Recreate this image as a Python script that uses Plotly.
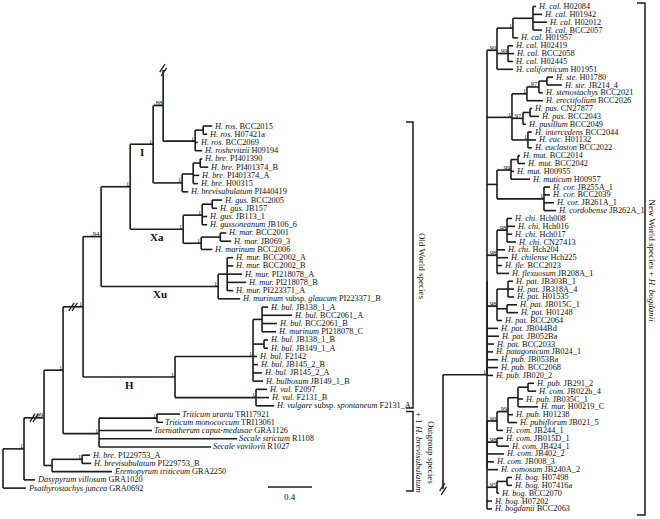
import plotly.graph_objects as go

# ---------------- data ----------------
LEFT_TAXA = [
    "H. ros.", "H. ros.", "H. ros.", "H. roshevitzii",
    "H. bre.", "H. bre.", "H. bre.", "H. bre.", "H. brevisubulatum",
    "H. gus.", "H. gus.", "H. gus.", "H. gussoneanum",
    "H. mar.", "H. mar.", "H. marinum",
    "H. mur.", "H. mur.", "H. mur.", "H. mur.", "H. mur.", "H. murinum subsp. glaucum",
    "H. bul.", "H. bul.", "H. bul.", "H. murinum", "H. bul.", "H. bul.", "H. bul.",
    "H. bul.", "H. bul.", "H. bulbosum",
    "H. vul.", "H. vul.", "H. vulgare subsp. spontaneum",
    "Triticum urartu", "Triticum monococcum", "Taeniatherum caput-medusae",
    "Secale strictum", "Secale vavilovii",
    "H. bre.", "H. brevisubulatum", "Eremopyrum triticeum", "Dasypyrum villosum",
    "Psathyrostachys juncea"]
LEFT_IDS = [
    "BCC2015", "H07421a", "BCC2069", "H09194",
    "PI401390", "PI401374_B", "PI401374_A", "H00315", "PI440419",
    "BCC2005", "JB157", "JB113_1", "JB106_6",
    "BCC2001", "JB069_3", "BCC2006",
    "BCC2002_A", "BCC2002_B", "PI218078_A", "PI218078_B", "PI223371_A", "PI223371_B",
    "JB138_1_A", "BCC2061_A", "BCC2061_B", "PI218078_C", "JB138_1_B", "JB149_1_A", "F2142",
    "JB145_2_B", "JB145_2_A", "JB149_1_B",
    "F2097", "F2131_B", "F2131_A",
    "TRI17921", "TRI13061", "GRA1126", "R1108", "R1027",
    "PI229753_A", "PI229753_B", "GRA2250", "GRA1020", "GRA0692"]

RIGHT_TAXA = [
    "H. cal.", "H. cal.", "H. cal.", "H. cal.", "H. cal.", "H. cal.", "H. cal.", "H. cal.",
    "H. californicum", "H. ste.", "H. ste.", "H. stenostachys", "H. erectifolium",
    "H. pus.", "H. pus.", "H. pusillum", "H. intercedens", "H. euc.", "H. euclaston",
    "H. mut.", "H. mut.", "H. mut.", "H. muticum",
    "H. cor.", "H. cor.", "H. cor.", "H. cordobense",
    "H. chi.", "H. chi.", "H. chi.", "H. chi.", "H. chi.", "H. chilense",
    "H. fle.", "H. flexuosum",
    "H. pat.", "H. pat.", "H. pat.", "H. pat.", "H. pat.", "H. pat.", "H. pat.", "H. pat.",
    "H. pat.", "H. patagonicum",
    "H. pub.", "H. pub.", "H. pub.", "H. pub.", "H. com.", "H. pub.", "H. mur.", "H. pub.",
    "H. pubiflorum",
    "H. com.", "H. com.", "H. com.", "H. com.", "H. com.", "H. comosum",
    "H. bog.", "H. bog.", "H. bog.", "H. bog.", "H. bogdanii"]
RIGHT_IDS = [
    "H02084", "H01942", "H02012", "BCC2057", "H01957", "H02419", "BCC2058", "H02445",
    "H01951", "H01780", "JB214_4", "BCC2021", "BCC2026",
    "CN27877", "BCC2043", "BCC2049", "BCC2044", "H01132", "BCC2022",
    "BCC2014", "BCC2042", "H00955", "H00957",
    "JB255A_1", "BCC2039", "JB261A_1", "JB262A_1",
    "Hch008", "Hch016", "Hch017", "CN27413", "Hch204", "Hch225",
    "BCC2023", "JB208A_1",
    "JB303B_1", "JB318A_4", "H01535", "JB015C_1", "H01248", "BCC2064", "JB044Bd", "JB052Ba",
    "BCC2033", "JB024_1",
    "JB053Ba", "BCC2068", "JB020_2", "JB291_2", "JB022b_4", "JB035C_1", "H00219_C", "H01238",
    "JB021_5",
    "JB244_1", "JB015D_1", "JB424_1", "JB402_2", "JB008_3", "JB240A_2",
    "H07498", "H07416a", "BCC2070", "H07202", "BCC2063"]

# Old World part + outgroups (branch lengths in substitutions/site, support = posterior prob.)
LEFT_NEWICK = (
    "(((((((("
    "(NW:0,((l1:0.082,l2:0.036):0.073,l3:0.023,l4:0.064)1:0.291).88:0.091,"
    "(((l5:0.018,l6:0.073):0.064,l7:0.055,l8:0.045):0.1,l9:0.055)1:0.264)1:0.209,"
    "(((l10:0.091,l11:0.045):0.091,l12:0.045,l13:0.045)1:0.173,"
    "((l14:0.055,l15:0.1):0.173,l16:0.1)1:0.164)1:0.482)1:0.264,"
    "((l17:0.055,l18:0.055,l19:0.136,l20:0.173,l21:0.055):0.082,l22:0.2)1:1.064).94:0.164,"
    "(((l23:0.055,l24:0.273,l25:0.136,l26:0.127):0.082,(l27:0.036,l28:0.036):0.1,"
    "l29:0.036,l30:0.045,l31:0.082,l32:0.091)1:0.709,"
    "(l33:0.1,l34:0.118,l35:0.164)1:0.736)1:0.836)1:0.182,"
    "((l36:0.209,l37:0.055)1:0.527,l38:0.482,l39:1.255,l40:1.018)1:0.327)1:0.173,"
    "((l41:0.073,l42:0.082)1:0.273,l43:0.545):0.073).99:0.182,"
    "l44:0.1)1:0.191,l45:0.209);")

# New World clade + H. bogdanii (continuation of the NW branch)
RIGHT_NEWICK = (
    "((("
    "(((r1:0.027,r2:0.082,r3:0.127,r4:0.082):0.182,r5:0.045)1:0.145,"
    "(r6:0.045,r7:0.055,r8:0.045).99:0.1,r9:0.145).90:0.091,"
    "((((r10:0.055,r11:0.136):0.073,r12:0.036).97:0.109,r13:0.145)1:0.136,"
    "((r14:0.018,r15:0.082):0.064,r16:0.027).97:0.1,"
    "(r17:0.036,r18:0.073,r19:0.036)1:0.145)1:0.227,"
    "(((r20:0.018,r21:0.064):0.064,r22:0.027,r23:0.173).99:0.127,"
    "(r24:0.055,r25:0.055,r26:0.091,r27:0.109)1:0.427):0.091,"
    "((r28:0.045,r29:0.073,r30:0.045,r31:0.082).98:0.091,r32:0.073,r33:0.1,r34:0.045,"
    "r35:0.109).98:0.091,"
    "((r36:0.045,r37:0.055,r38:0.055):0.1,(r39:0.091,r40:0.1):0.091,r41:0.045).98:0.091,"
    "r42:0.1,r43:0.109,r44:0.064,r45:0.055,r46:0.1,r47:0.1,r48:0.055):0,"
    "(((((r49:0.055,r50:0.073):0.091,r51:0.045,r52:0.182):0.091,r53:0.045,r54:0.082).99:0.1,"
    "r55:0.055).90:0.091,"
    "(r56:0.055,r57:0.109).98:0.091,r58:0.155,r59:0.064,r60:0.1,"
    "((r61:0.045,r62:0.045):0.091,r63:0.018).95:0.091,r64:0.045,r65:0.045):0"
    ")1:0.4);")

CLADE_LABELS = [("I", "l1", "l9"), ("Xa", "l10", "l16"), ("Xu", "l17", "l22"), ("H", "l23", "l35")]
LEFT_BREAK_CLADES = [("l1", "l43"), ("l1", "l35")]   # branches drawn with a // break
SCALE_BAR = 0.4
SCALE_LABEL = "0.4"

# ---------------- geometry / style ----------------
W, HGT = 660, 519
PX_PER_UNIT = 110.0
LEFT_ROOT_PX = 3.0
RIGHT_ROOT_PX = 443.0
L_ROW0, L_ROWPX = 126.0, 8.23
R_ROW0, R_ROWPX = 6.5, 7.85
LINE = "#1c1c1c"
LW = 1.6
FONT = "Liberation Serif"
TIP_SIZE = 8.3


def ux(px):
    return (px - LEFT_ROOT_PX) / PX_PER_UNIT


def lrow(px):
    return (px - L_ROW0) / L_ROWPX


def rrow(px):
    return (px - R_ROW0) / R_ROWPX


def parse_newick(s):
    s = s.strip().rstrip(";")
    pos = 0

    def node():
        nonlocal pos
        n = {"children": [], "name": "", "support": "", "bl": 0.0}
        if s[pos] == "(":
            pos += 1
            while True:
                n["children"].append(node())
                if s[pos] == ",":
                    pos += 1
                    continue
                pos += 1
                break
        st = pos
        while pos < len(s) and s[pos] not in ":,)":
            pos += 1
        lab = s[st:pos]
        if n["children"]:
            n["support"] = lab
        else:
            n["name"] = lab
        if pos < len(s) and s[pos] == ":":
            pos += 1
            st = pos
            while pos < len(s) and s[pos] not in ",)":
                pos += 1
            n["bl"] = float(s[st:pos])
        return n

    return node()


def layout(n, x0, rows):
    n["px"] = x0
    n["x"] = x0 + n["bl"]
    if n["children"]:
        for c in n["children"]:
            layout(c, n["x"], rows)
        n["y"] = sum(c["y"] for c in n["children"]) / len(n["children"])
    else:
        n["y"] = rows[n["name"]]


def walk(n):
    yield n
    for c in n["children"]:
        yield from walk(c)


def tipset(n):
    return {m["name"] for m in walk(n) if not m["children"]}


def mrca(tree, a, b):
    best = tree
    for m in walk(tree):
        ts = tipset(m)
        if a in ts and b in ts:
            best = m
    return best


def lines(n, xs, ys, parent=True):
    if parent:
        xs += [n["px"], n["x"], None]
        ys += [n["y"], n["y"], None]
    if n["children"]:
        cy = [c["y"] for c in n["children"]]
        if max(cy) > min(cy):
            xs += [n["x"], n["x"], None]
            ys += [min(cy), max(cy), None]
        for c in n["children"]:
            lines(c, xs, ys)


def fmt(name, acc):
    if " subsp. " in name:
        a, b = name.split(" subsp. ")
        return f"<i>{a}</i> subsp. <i>{b}</i> {acc}"
    return f"<i>{name}</i> {acc}"


NW_STUB_ROW = lrow(70)
RIGHT_BREAK_ROW = rrow(489)

left_rows = {f"l{i+1}": i for i in range(len(LEFT_IDS))}
left_rows["NW"] = NW_STUB_ROW
right_rows = {f"r{i+1}": i for i in range(len(RIGHT_IDS))}

ltree = parse_newick(LEFT_NEWICK)
layout(ltree, 0.0, left_rows)
rtree = parse_newick(RIGHT_NEWICK)
layout(rtree, ux(RIGHT_ROOT_PX), right_rows)

fig = go.Figure()
annos = []

lx, ly = [], []
lines(ltree, lx, ly, parent=False)
rx, ry = [], []
lines(rtree, rx, ry, parent=False)
rx += [rtree["x"], rtree["x"], None]
ry += [rtree["y"], RIGHT_BREAK_ROW, None]

fig.add_trace(go.Scatter(x=lx, y=ly, mode="lines", line=dict(color=LINE, width=LW),
                         hoverinfo="skip", showlegend=False, yaxis="y"))
fig.add_trace(go.Scatter(x=rx, y=ry, mode="lines", line=dict(color=LINE, width=LW),
                         hoverinfo="skip", showlegend=False, yaxis="y2"))


def slash_pair(cx, cy_row, rowpx, along="h"):
    xs, ys = [], []
    for k in (-1, 1):
        ox = 1.6 * k if along == "h" else 0.8 * k
        oy = 0.0 if along == "h" else 1.8 * k
        xs += [cx + (-2.6 + ox) / PX_PER_UNIT, cx + (2.6 + ox) / PX_PER_UNIT, None]
        ys += [cy_row + (4.0 + oy) / rowpx, cy_row + (-4.0 + oy) / rowpx, None]
    return xs, ys


bxl, byl = [], []
nw = [m for m in walk(ltree) if m["name"] == "NW"][0]
a, b = slash_pair(nw["x"], nw["y"], L_ROWPX, "v")
bxl += a; byl += b
for t1, t2 in LEFT_BREAK_CLADES:
    bn = mrca(ltree, t1, t2)
    a, b = slash_pair((bn["px"] + bn["x"]) / 2, bn["y"], L_ROWPX, "h")
    bxl += a; byl += b
fig.add_trace(go.Scatter(x=bxl, y=byl, mode="lines", line=dict(color=LINE, width=1.3),
                         hoverinfo="skip", showlegend=False, yaxis="y"))
a, b = slash_pair(rtree["x"], RIGHT_BREAK_ROW, R_ROWPX, "v")
fig.add_trace(go.Scatter(x=a, y=b, mode="lines", line=dict(color=LINE, width=1.3),
                         hoverinfo="skip", showlegend=False, yaxis="y2"))

for tree, yref, taxa, ids, pref in ((ltree, "y", LEFT_TAXA, LEFT_IDS, "l"),
                                    (rtree, "y2", RIGHT_TAXA, RIGHT_IDS, "r")):
    for m in walk(tree):
        if not m["children"] and m["name"].startswith(pref):
            i = int(m["name"][1:]) - 1
            annos.append(dict(x=m["x"], y=m["y"], xref="x", yref=yref, text=fmt(taxa[i], ids[i]),
                              showarrow=False, xanchor="left", yanchor="middle", xshift=1,
                              borderpad=0,
                              font=dict(family=FONT, size=TIP_SIZE, color="#111")))
        if m["children"] and m["support"]:
            annos.append(dict(x=m["x"], y=m["y"], xref="x", yref=yref, text=m["support"],
                              showarrow=False, xanchor="right", yanchor="bottom", xshift=0,
                              yshift=-1.5, borderpad=0,
                              font=dict(family=FONT, size=6.5, color="#111")))

for lab, t1, t2 in CLADE_LABELS:
    m = mrca(ltree, t1, t2)
    annos.append(dict(x=(m["px"] + m["x"]) / 2, y=m["y"], xref="x", yref="y", text=f"<b>{lab}</b>",
                      showarrow=False, xanchor="center", yanchor="middle", yshift=-7.5,
                      font=dict(family=FONT, size=11, color="#111")))


def bracket(x_px, top_px, bot_px, rowf, tick=7):
    x = ux(x_px)
    xt = ux(x_px - tick)
    return ([xt, x, x, xt, None], [rowf(top_px), rowf(top_px), rowf(bot_px), rowf(bot_px), None])


bx, by = [], []
for t, bt in ((122, 408), (411.5, 491)):
    a, b = bracket(413, t, bt, lrow)
    bx += a; by += b
fig.add_trace(go.Scatter(x=bx, y=by, mode="lines", line=dict(color=LINE, width=1.5),
                         hoverinfo="skip", showlegend=False, yaxis="y"))
a, b = bracket(645, 3, 515, rrow, tick=8)
fig.add_trace(go.Scatter(x=a, y=b, mode="lines", line=dict(color=LINE, width=1.5),
                         hoverinfo="skip", showlegend=False, yaxis="y2"))

annos.append(dict(x=ux(422), y=lrow(266), xref="x", yref="y", text="Old World species",
                  textangle=90, showarrow=False, borderpad=0,
                  font=dict(family=FONT, size=9, color="#111")))
annos.append(dict(x=ux(425), y=lrow(452), xref="x", yref="y",
                  text="Outgroup species<br>+ 1 <i>H. brevisubulatum</i>",
                  textangle=90, showarrow=False, borderpad=0,
                  font=dict(family=FONT, size=9, color="#111")))
annos.append(dict(x=ux(651.5), y=rrow(261), xref="x", yref="y2",
                  text="New World species + <i>H. bogdanii</i>",
                  textangle=90, showarrow=False, borderpad=0,
                  font=dict(family=FONT, size=9, color="#111")))

sx0 = ux(268)
fig.add_trace(go.Scatter(x=[sx0, sx0 + SCALE_BAR], y=[lrow(487), lrow(487)], mode="lines",
                         line=dict(color=LINE, width=1.5), hoverinfo="skip", showlegend=False,
                         yaxis="y"))
annos.append(dict(x=sx0 + SCALE_BAR / 2, y=lrow(497), xref="x", yref="y", text=SCALE_LABEL,
                  showarrow=False, font=dict(family=FONT, size=9, color="#111")))

fig.update_layout(
    width=W, height=HGT, margin=dict(l=0, r=0, t=0, b=0),
    paper_bgcolor="white", plot_bgcolor="white",
    xaxis=dict(range=[ux(0), ux(W)], visible=False, fixedrange=True),
    yaxis=dict(range=[lrow(HGT), lrow(0)], visible=False, fixedrange=True),
    yaxis2=dict(range=[rrow(HGT), rrow(0)], visible=False, overlaying="y", fixedrange=True),
    annotations=annos,
)
fig.write_html("out.html", config={"displayModeBar": False, "staticPlot": True},
               post_script="document.body.style.margin='0';document.body.style.padding='0';"
                           "document.body.style.overflow='hidden';")
